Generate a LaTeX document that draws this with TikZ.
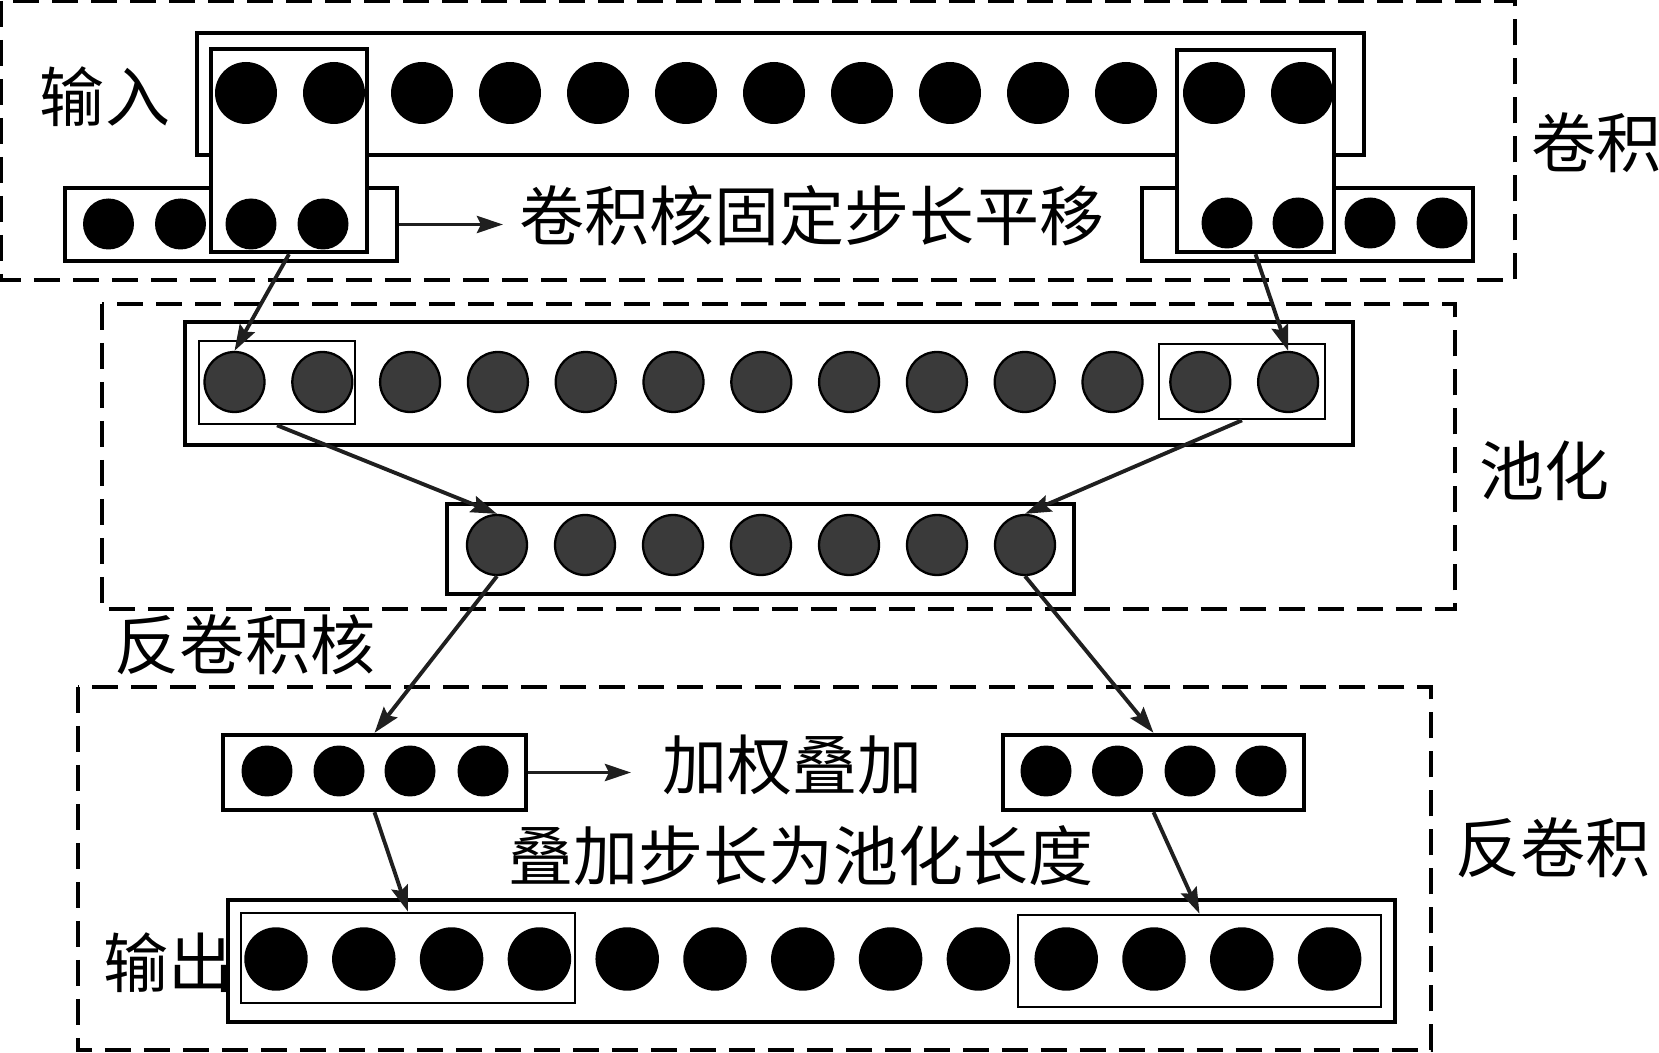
\documentclass[tikz,border=0pt]{standalone}
\usepackage{fontspec}
\newfontfamily\cjk{Noto Sans CJK SC}
\usetikzlibrary{arrows.meta}
\definecolor{poolgray}{HTML}{3A3A3A}

\begin{document}
\begin{tikzpicture}[x=0.02cm, y=-0.02cm,
  dot/.style={circle, fill=black, inner sep=0pt, minimum size=1.24cm},
  sdot/.style={circle, fill=black, inner sep=0pt, minimum size=1.02cm},
  odot/.style={circle, fill=black, inner sep=0pt, minimum size=1.27cm},
  pdot/.style={circle, draw=black, line width=1.3pt, fill=poolgray, inner sep=0pt, minimum size=1.2cm},
  box/.style={draw, line width=2.5pt, fill=white, inner sep=0pt},
  thinbox/.style={draw, line width=1.5pt, inner sep=0pt},
  frame/.style={line width=1.9pt, dash pattern=on 0.52cm off 0.26cm},
  lbl/.style={font=\cjk\fontsize{37pt}{40pt}\selectfont, inner sep=0pt},
  arr/.style={-{Stealth[length=0.52cm, width=0.34cm, inset=0.08cm]}, line width=2.2pt, black!88}]
  \useasboundingbox (0,0) rectangle (1659,1053);
  % dashed stages
  \draw[frame] (1,1) rectangle (1515,280);
  \draw[frame] (102,304) rectangle (1455,609);
  \draw[frame] (78,687) rectangle (1431,1050);
  % convolution
  \node[box, minimum width=23.34cm, minimum height=2.44cm] (inbox) at (780.5,94) {};
  \node[box, minimum width=6.64cm, minimum height=1.46cm] (ksmL) at (231,224.5) {};
  \node[box, minimum width=6.62cm, minimum height=1.46cm] (ksmR) at (1307.5,224.5) {};
  \node[box, minimum width=3.12cm, minimum height=4.06cm] (kerL) at (289,150.5) {};
  \node[box, minimum width=3.14cm, minimum height=4.04cm] (kerR) at (1255.5,151) {};
  \foreach \i in {1,...,13}
    \node[dot] (in\i) at ({246+88*(\i-1)},93) {};
  \foreach \x [count=\i] in {108.5,180.5,251,323}
    \node[sdot] (kl\i) at (\x,224) {};
  \foreach \x [count=\i] in {1227,1298,1370,1442}
    \node[sdot] (kr\i) at (\x,223) {};
  % pooling
  \node[box, minimum width=23.36cm, minimum height=2.46cm] (poolbox) at (769,383.5) {};
  \node[thinbox, minimum width=3.12cm, minimum height=1.66cm] (plL) at (277,382.5) {};
  \node[thinbox, minimum width=3.32cm, minimum height=1.5cm] (plR) at (1242,381.5) {};
  \foreach \i in {1,...,13}
    \node[pdot] (pl\i) at ({234.5+87.8*(\i-1)},382) {};
  \node[box, minimum width=12.54cm, minimum height=1.8cm] (rowbox) at (760.5,549) {};
  \foreach \i in {1,...,7}
    \node[pdot] (pr\i) at ({497+88*(\i-1)},545) {};
  % deconvolution
  \node[box, minimum width=6.06cm, minimum height=1.5cm] (dcL) at (374.5,772.5) {};
  \node[box, minimum width=6.02cm, minimum height=1.5cm] (dcR) at (1153.5,772.5) {};
  \foreach \x [count=\i] in {267,339,410,483}
    \node[sdot] (dl\i) at (\x,771) {};
  \foreach \x [count=\i] in {1046,1117.5,1190,1261}
    \node[sdot] (dr\i) at (\x,771) {};
  \node[box, minimum width=23.34cm, minimum height=2.44cm] (outbox) at (811.5,961) {};
  \node[thinbox, minimum width=6.68cm, minimum height=1.8cm] (outL) at (408,958) {};
  \node[thinbox, minimum width=7.26cm, minimum height=1.84cm] (outR) at (1199.5,961) {};
  \foreach \i in {1,...,13}
    \node[odot] (out\i) at ({276+87.8*(\i-1)},959) {};
  % labels
  \node[lbl] (tin) at (105,97) {输入};
  \node[lbl] (tconv) at (1596,143) {卷积};
  \node[lbl, anchor=west] (tshift) at (519,216) {卷积核固定步长平移};
  \node[lbl] (tpool) at (1544,471) {池化};
  \node[lbl] (tkernel) at (245,645) {反卷积核};
  \node[lbl, anchor=west] (tweight) at (662,765) {加权叠加};
  \node[lbl] (tstep) at (801,856) {叠加步长为池化长度};
  \node[lbl] (tdeconv) at (1553,848) {反卷积};
  \node[lbl, anchor=east] (tout) at (234,963) {输出};
  % arrows
  \draw[arr, shorten >=0.32cm] (ksmL.east) -- (ksmL.east -| tshift.west);
  \draw[arr, shorten >=0.62cm] (dcL.east) -- (dcL.east -| tweight.west);
  \draw[arr] (kerL.south) -- (pl1.north);
  \draw[arr] (kerR.south) -- (pl13.north);
  \draw[arr] (plL.south) -- (pr1.north);
  \draw[arr] (plR.south) -- (pr7.north);
  \draw[arr] (pr1.south) -- (dcL.north);
  \draw[arr] (pr7.south) -- (dcR.north);
  \draw[arr] (dcL.south) -- (outL.north);
  \draw[arr] (dcR.south) -- (outR.north);
\end{tikzpicture}
\end{document}
